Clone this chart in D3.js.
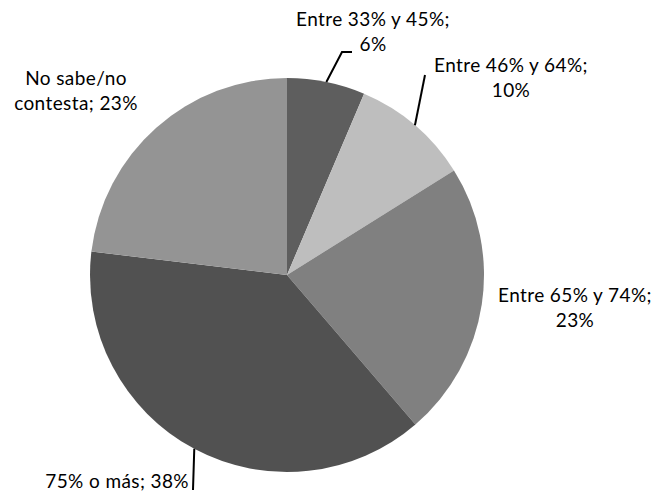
<!DOCTYPE html>
<html>
<head>
<meta charset="utf-8">
<script src="https://cdn.jsdelivr.net/npm/d3@7"></script>
<style>
  body { margin: 0; background: #fff; }
  text { font-family: Lato, "Liberation Sans", sans-serif; fill: #000; }
</style>
</head>
<body>
<div id="chart"></div>
<script>
// slices, clockwise from 12 o'clock
const categories = ["Entre 33% y 45%", "Entre 46% y 64%", "Entre 65% y 74%", "75% o más", "No sabe/no contesta"];
const values = [6.4, 9.7, 22.6, 38.2, 23.1];
const shownPct = ["6%", "10%", "23%", "38%", "23%"];
const colors = ["#5e5e5e", "#bebebe", "#808080", "#515151", "#949494"];

// label lines (text), placed by hand like the original
const labelLines = [
  ["Entre 33% y 45%;", "6%"],
  ["Entre 46% y 64%;", "10%"],
  ["Entre 65% y 74%;", "23%"],
  ["75% o más; 38%"],
  ["No sabe/no", "contesta; 23%"]
];
const labelPos = [
  { x: 373, y: 26, anchor: "middle" },
  { x: 511, y: 72, anchor: "middle" },
  { x: 575, y: 302, anchor: "middle" },
  { x: 189, y: 488, anchor: "end" },
  { x: 76, y: 85, anchor: "middle" }
];
// where the leader lines end near the label (null = no line)
const leaderEnds = [
  [[342, 52], [352, 52]],
  [[425, 75]],
  null,
  [[193, 490]],
  null
];

const width = 660;
const height = 493;
const cx = 287, cy = 275, radius = 197;

const svg = d3.select("#chart")
  .append("svg")
  .attr("width", width)
  .attr("height", height);

const g = svg.append("g")
  .attr("transform", "translate(" + cx + "," + cy + ")");

const pie = d3.pie().sort(null).value(d => d);
const arcs = pie(values);

const arc = d3.arc().innerRadius(0).outerRadius(radius);
// zero-width arc, centroid = point on the rim at mid angle
const rim = d3.arc().innerRadius(radius).outerRadius(radius);

g.selectAll("path.slice")
  .data(arcs)
  .join("path")
  .attr("class", "slice")
  .attr("d", arc)
  .attr("fill", (d, i) => colors[i]);

// leader lines
arcs.forEach(function (d, i) {
  if (!leaderEnds[i]) return;
  const p = rim.centroid(d);
  const pts = [[cx + p[0], cy + p[1]]].concat(leaderEnds[i]);
  svg.append("path")
    .attr("d", d3.line()(pts))
    .attr("fill", "none")
    .attr("stroke", "#000")
    .attr("stroke-width", 2);
});

// labels
labelLines.forEach(function (lines, i) {
  const pos = labelPos[i];
  const t = svg.append("text")
    .attr("x", pos.x)
    .attr("y", pos.y)
    .attr("text-anchor", pos.anchor)
    .style("font-size", "19px")
    .style("letter-spacing", "0.4px");
  lines.forEach(function (line, j) {
    t.append("tspan")
      .attr("x", pos.x)
      .attr("dy", j === 0 ? 0 : 25)
      .text(line);
  });
});
</script>
</body>
</html>
